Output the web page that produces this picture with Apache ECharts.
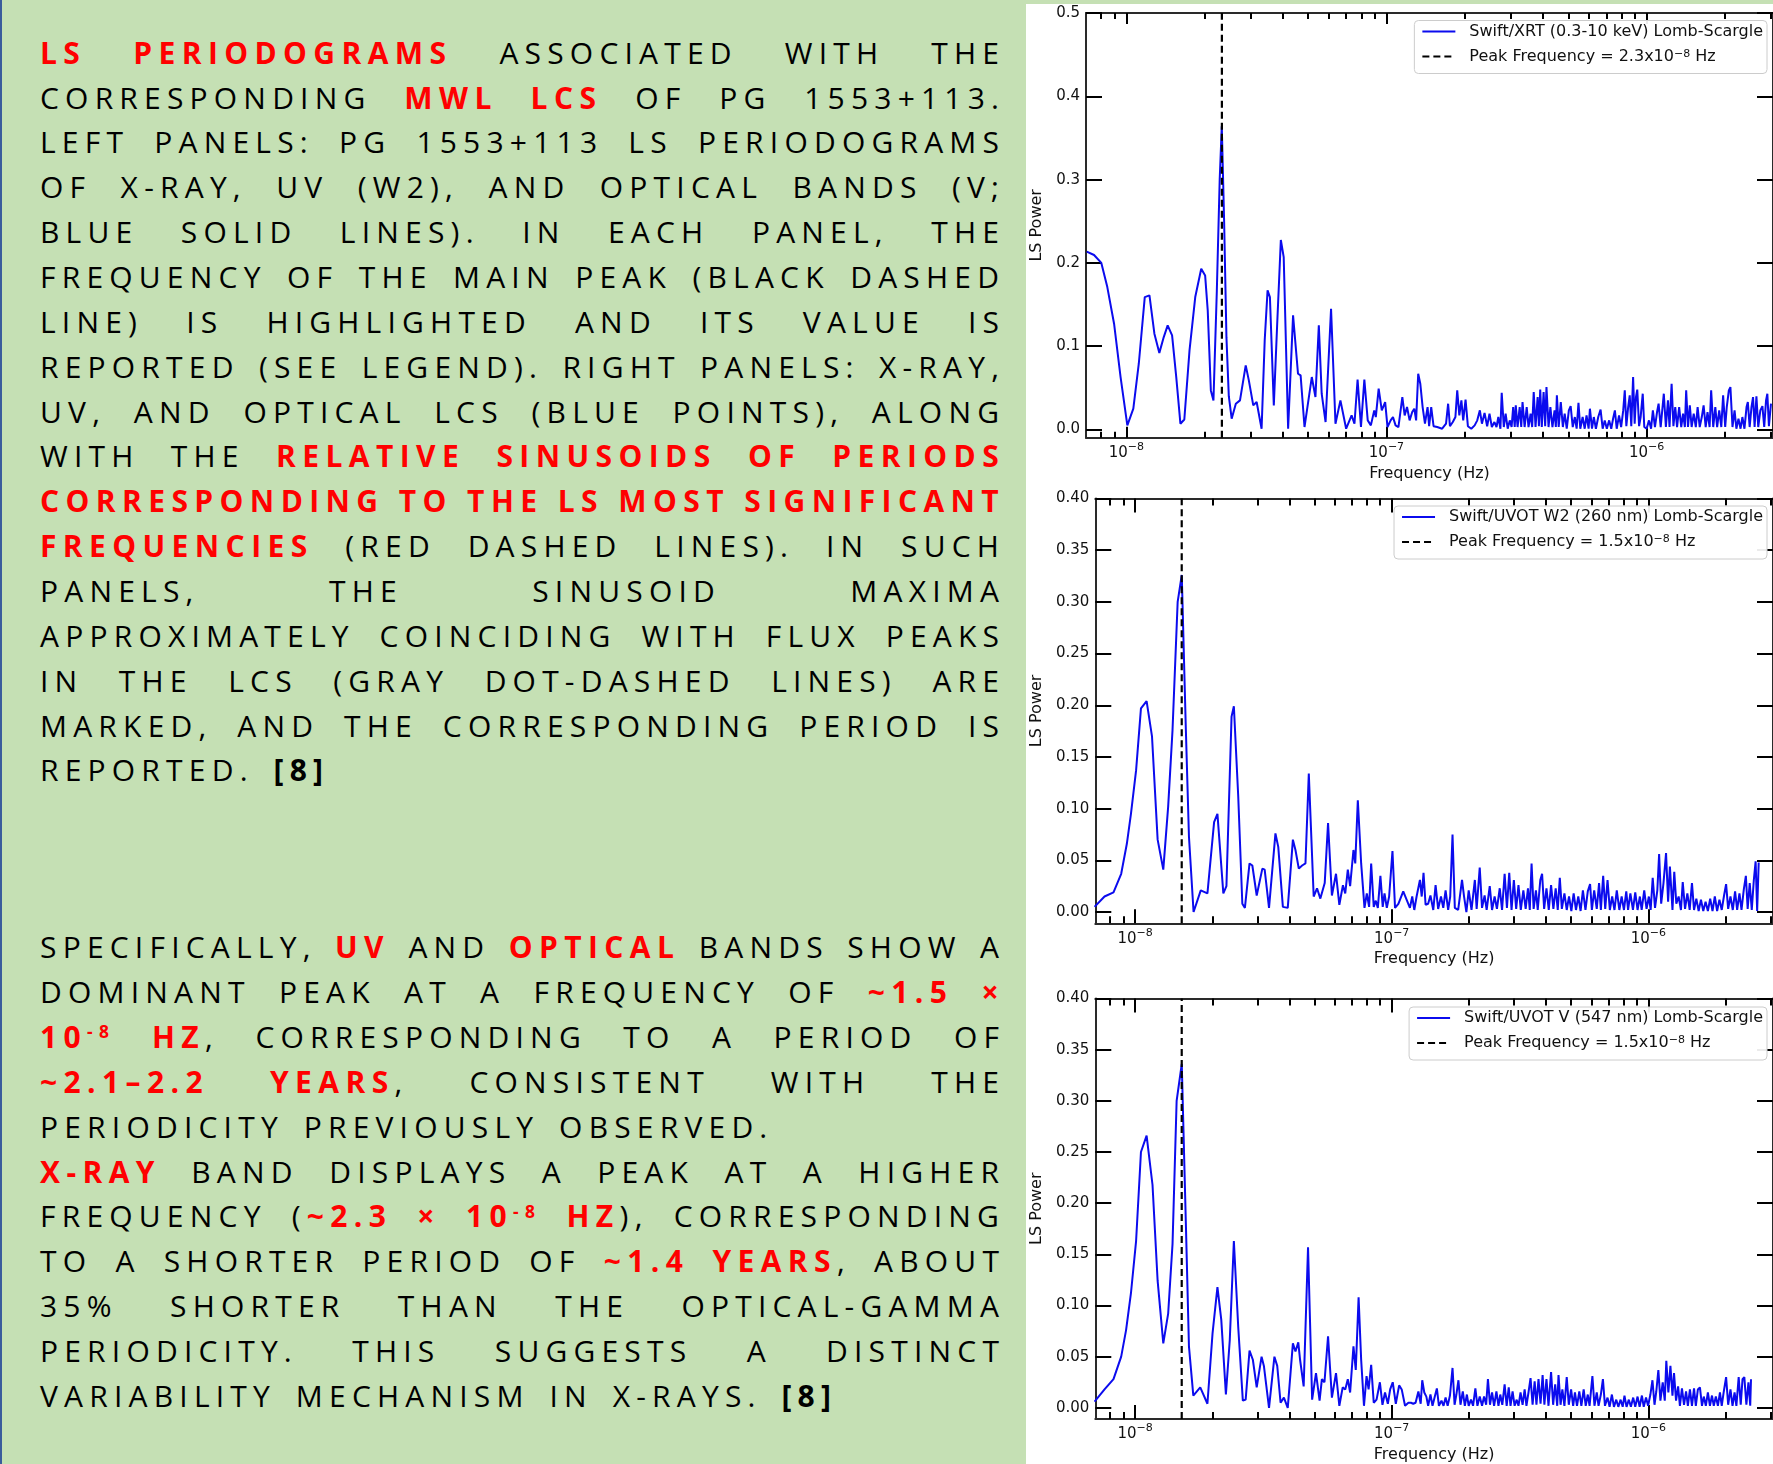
<!DOCTYPE html>
<html>
<head>
<meta charset="utf-8">
<title>LS periodograms of PG 1553+113</title>
<script src="https://cdn.jsdelivr.net/npm/echarts@6.0.0/dist/echarts.min.js"></script>
<style>
  html, body { margin:0; padding:0; }
  body { width:1773px; height:1464px; overflow:hidden; background:#C5E0B4; position:relative; }
  #edge { position:absolute; left:0; top:0; width:2px; height:1464px; background:#3A5C9C; }
  #plotbg { position:absolute; left:1026px; top:4px; width:747px; height:1460px; background:#ffffff; }
  #caption { position:absolute; left:40px; top:0; width:959px; height:1464px; font-family:'Open Sans','Noto Sans',sans-serif; font-size:30px; color:#000; }
  .ln { position:absolute; left:0; width:959px; height:44.86px; line-height:44.86px; display:flex; justify-content:space-between; white-space:nowrap; }
  .ln.last { justify-content:flex-start; column-gap:26px; }
  .w { letter-spacing:6.2px; margin-right:-6.2px; }
  .r { color:#FF0000; font-weight:700; letter-spacing:6.4px; }
  .b { font-weight:700; }
  .sup { font-size:0.58em; position:relative; top:-0.55em; }
  #chart { position:absolute; left:0; top:0; width:1773px; height:1464px; }
</style>
</head>
<body>
<div id="edge"></div>
<div id="plotbg"></div>
<div id="caption"></div>
<div id="chart"></div>
<script>
// ---------------- caption text ----------------
// *...* = bold red, #...# = bold black, ^-8 = superscript, leading ! = last (non-justified) line
const captionPara1 = [
  '*LS* *PERIODOGRAMS* ASSOCIATED WITH THE',
  'CORRESPONDING *MWL* *LCS* OF PG 1553+113.',
  'LEFT PANELS: PG 1553+113 LS PERIODOGRAMS',
  'OF X-RAY, UV (W2), AND OPTICAL BANDS (V;',
  'BLUE SOLID LINES). IN EACH PANEL, THE',
  'FREQUENCY OF THE MAIN PEAK (BLACK DASHED',
  'LINE) IS HIGHLIGHTED AND ITS VALUE IS',
  'REPORTED (SEE LEGEND). RIGHT PANELS: X-RAY,',
  'UV, AND OPTICAL LCS (BLUE POINTS), ALONG',
  'WITH THE *RELATIVE* *SINUSOIDS* *OF* *PERIODS*',
  '*CORRESPONDING* *TO* *THE* *LS* *MOST* *SIGNIFICANT*',
  '*FREQUENCIES* (RED DASHED LINES). IN SUCH',
  'PANELS, THE SINUSOID MAXIMA',
  'APPROXIMATELY COINCIDING WITH FLUX PEAKS',
  'IN THE LCS (GRAY DOT-DASHED LINES) ARE',
  'MARKED, AND THE CORRESPONDING PERIOD IS',
  '!REPORTED. #[8]#'
];
const captionPara2 = [
  'SPECIFICALLY, *UV* AND *OPTICAL* BANDS SHOW A',
  'DOMINANT PEAK AT A FREQUENCY OF *~1.5* *×*',
  '*10^-8* *HZ*, CORRESPONDING TO A PERIOD OF',
  '*~2.1–2.2* *YEARS*, CONSISTENT WITH THE',
  '!PERIODICITY PREVIOUSLY OBSERVED.',
  '*X-RAY* BAND DISPLAYS A PEAK AT A HIGHER',
  'FREQUENCY (*~2.3* *×* *10^-8* *HZ*), CORRESPONDING',
  'TO A SHORTER PERIOD OF *~1.4* *YEARS*, ABOUT',
  '35% SHORTER THAN THE OPTICAL-GAMMA',
  'PERIODICITY. THIS SUGGESTS A DISTINCT',
  '!VARIABILITY MECHANISM IN X-RAYS. #[8]#'
];

// ---------------- periodogram data: [log10(frequency / Hz), LS power] ----------------
const xrtPoints = [
[-8.152,0.2135],[-8.124,0.2095],[-8.096,0.200],[-8.073,0.171],[-8.047,0.127],[-8.022,0.063],[-7.996,0.005],[-7.973,0.025],[-7.952,0.079],[-7.929,0.159],[-7.911,0.161],[-7.892,0.115],[-7.873,0.092],[-7.856,0.111],[-7.841,0.125],[-7.824,0.113],[-7.808,0.063],[-7.792,0.007],[-7.777,0.012],[-7.757,0.095],[-7.735,0.159],[-7.712,0.193],[-7.697,0.185],[-7.687,0.143],[-7.675,0.047],[-7.665,0.035],[-7.652,0.167],[-7.641,0.300],[-7.633,0.364],[-7.624,0.250],[-7.615,0.110],[-7.606,0.040],[-7.595,0.013],[-7.579,0.031],[-7.563,0.035],[-7.541,0.077],[-7.529,0.059],[-7.512,0.029],[-7.499,0.033],[-7.480,0.001],[-7.468,0.107],[-7.457,0.167],[-7.448,0.159],[-7.433,0.029],[-7.420,0.127],[-7.406,0.2275],[-7.395,0.207],[-7.378,0.001],[-7.359,0.137],[-7.340,0.067],[-7.330,0.065],[-7.315,0.003],[-7.287,0.063],[-7.273,0.039],[-7.260,0.125],[-7.249,0.043],[-7.234,0.009],[-7.213,0.145],[-7.196,0.007],[-7.177,0.035],[-7.155,0.001],[-7.134,0.017],[-7.123,0.007],[-7.111,0.060],[-7.098,0.003],[-7.085,0.060],[-7.072,0.011],[-7.060,0.005],[-7.047,0.023],[-7.041,0.015],[-7.030,0.049],[-7.018,0.023],[-7.005,0.033],[-6.996,0.003],
[-6.984,0.011],[-6.975,0.015],[-6.965,0.005],[-6.954,0.003],[-6.939,0.039],[-6.930,0.017],[-6.921,0.027],[-6.911,0.011],[-6.901,0.021],[-6.893,0.025],[-6.886,0.011],[-6.878,0.067],[-6.870,0.055],[-6.861,0.027],[-6.852,0.007],[-6.842,0.027],[-6.836,0.004],[-6.828,0.027],[-6.819,0.004],[-6.805,0.003],[-6.786,0.001],[-6.771,0.007],[-6.763,0.031],[-6.756,0.004],[-6.745,0.009],[-6.735,0.015],[-6.728,0.047],[-6.720,0.017],[-6.712,0.035],[-6.705,0.011],[-6.696,0.036],[-6.687,0.004],[-6.674,0.001],[-6.661,0.005],[-6.651,0.011],[-6.641,0.023],[-6.633,0.007],[-6.623,0.020],[-6.613,0.004],[-6.604,0.019],[-6.595,0.003],[-6.585,0.009],[-6.577,0.003],
[-6.570,0.015],[-6.562,0.001],[-6.557,0.044],[-6.549,0.003],[-6.542,0.019],[-6.534,0.001],[-6.526,0.011],[-6.519,0.003],[-6.513,0.027],[-6.507,0.003],[-6.503,0.029],[-6.496,0.003],[-6.488,0.027],[-6.482,0.003],[-6.477,0.033],[-6.469,0.003],[-6.461,0.027],[-6.454,0.003],[-6.446,0.019],[-6.440,0.003],[-6.434,0.045],[-6.427,0.003],[-6.419,0.039],[-6.414,0.004],[-6.409,0.048],[-6.403,0.003],[-6.396,0.045],[-6.390,0.004],[-6.385,0.051],[-6.377,0.003],[-6.370,0.027],[-6.362,0.003],[-6.354,0.023],[-6.349,0.003],[-6.345,0.041],[-6.338,0.003],[-6.330,0.033],[-6.322,0.003],[-6.315,0.019],[-6.307,0.001],[-6.299,0.023],[-6.292,0.028],[-6.284,0.003],[-6.276,0.015],[-6.269,0.001],[-6.262,0.032],[-6.255,0.001],[-6.246,0.015],[-6.238,0.001],[-6.231,0.017],[-6.223,0.001],[-6.218,0.025],[-6.210,0.001],[-6.203,0.015],[-6.195,0.001],[-6.186,0.015],[-6.177,0.024],[-6.169,0.001],[-6.161,0.011],[-6.153,0.001],[-6.144,0.011],[-6.136,0.001],[-6.129,0.013],[-6.122,0.023],[-6.115,0.001],[-6.106,0.017],[-6.098,0.003],[-6.090,0.023],[-6.084,0.047],[-6.078,0.004],[-6.071,0.027],[-6.065,0.041],[-6.059,0.004],[-6.052,0.063],[-6.046,0.007],[-6.041,0.039],[-6.036,0.048],[-6.029,0.004],[-6.023,0.015],[-6.015,0.043],[-6.009,0.003],[-6.000,0.001],[-5.991,0.011],[-5.983,0.001],[-5.976,0.023],[-5.968,0.003],[-5.960,0.021],[-5.954,0.031],[-5.946,0.003],[-5.940,0.023],[-5.934,0.043],[-5.926,0.003],[-5.918,0.035],[-5.912,0.003],[-5.904,0.055],[-5.897,0.004],[-5.890,0.027],[-5.883,0.003],[-5.875,0.027],[-5.867,0.003],[-5.860,0.019],[-5.853,0.003],[-5.848,0.047],[-5.841,0.003],[-5.834,0.029],[-5.827,0.003],[-5.819,0.019],[-5.811,0.003],[-5.804,0.027],[-5.796,0.003],[-5.788,0.015],[-5.781,0.029],[-5.773,0.003],[-5.766,0.021],[-5.758,0.003],[-5.752,0.047],[-5.744,0.003],[-5.736,0.027],[-5.729,0.003],[-5.721,0.023],[-5.713,0.003],[-5.706,0.041],[-5.698,0.003],[-5.692,0.027],[-5.684,0.047],[-5.678,0.051],[-5.670,0.003],[-5.662,0.023],[-5.655,0.001],[-5.647,0.013],[-5.639,0.001],[-5.632,0.015],[-5.624,0.001],[-5.616,0.027],[-5.611,0.033],[-5.604,0.003],[-5.597,0.027],[-5.591,0.039],[-5.585,0.003],[-5.578,0.040],[-5.571,0.003],[-5.563,0.023],[-5.555,0.028],[-5.548,0.003],[-5.541,0.035],[-5.536,0.043],[-5.530,0.004],[-5.522,0.031]
];
const w2Points = [
[-8.158,0.005],[-8.119,0.015],[-8.084,0.019],[-8.054,0.037],[-8.032,0.066],[-8.016,0.095],[-7.996,0.137],[-7.977,0.197],[-7.955,0.204],[-7.934,0.170],[-7.912,0.070],[-7.890,0.041],[-7.871,0.102],[-7.854,0.176],[-7.834,0.300],[-7.818,0.326],[-7.802,0.176],[-7.790,0.073],[-7.772,0.000],[-7.744,0.021],[-7.718,0.018],[-7.692,0.087],[-7.679,0.095],[-7.656,0.018],[-7.644,0.025],[-7.624,0.189],[-7.615,0.199],[-7.598,0.112],[-7.582,0.008],[-7.572,0.004],[-7.554,0.047],[-7.543,0.045],[-7.526,0.016],[-7.504,0.042],[-7.495,0.041],[-7.478,0.004],[-7.453,0.076],[-7.442,0.063],[-7.424,0.005],[-7.405,0.004],[-7.385,0.070],[-7.375,0.060],[-7.362,0.042],[-7.349,0.045],[-7.336,0.047],[-7.323,0.134],[-7.304,0.015],[-7.291,0.023],[-7.278,0.013],[-7.261,0.028],[-7.248,0.086],[-7.233,0.016],[-7.217,0.037],[-7.204,0.007],[-7.190,0.026],[-7.181,0.018],[-7.171,0.041],[-7.162,0.025],[-7.149,0.060],[-7.142,0.047],[-7.132,0.108],[-7.119,0.047],[-7.106,0.004],[-7.097,0.018],[-7.088,0.005],[-7.080,0.047],[-7.070,0.005],[-7.062,0.011],[-7.054,0.004],[-7.044,0.035],[-7.035,0.005],[-7.028,0.018],[-7.019,0.004],[-7.010,0.015],[-6.997,0.059],[-6.987,0.004],[-6.974,0.008],[-6.955,0.020],[-6.942,0.012],
[-6.938,0.012],[-6.929,0.004],[-6.920,0.015],[-6.912,0.002],[-6.903,0.015],[-6.890,0.031],[-6.883,0.015],[-6.876,0.038],[-6.868,0.007],[-6.858,0.008],[-6.849,0.016],[-6.838,0.002],[-6.829,0.026],[-6.819,0.003],[-6.808,0.015],[-6.799,0.004],[-6.790,0.021],[-6.780,0.002],[-6.772,0.015],[-6.763,0.075],[-6.754,0.004],[-6.741,0.002],[-6.726,0.031],[-6.718,0.015],[-6.709,0.000],[-6.700,0.021],[-6.689,0.002],[-6.676,0.031],[-6.669,0.003],[-6.657,0.043],[-6.648,0.004],[-6.638,0.016],[-6.630,0.002],[-6.618,0.025],[-6.609,0.002],[-6.599,0.015],[-6.590,0.003],[-6.579,0.023],[-6.570,0.002],[-6.560,0.037],[-6.551,0.004],[-6.542,0.038],[-6.533,0.002],[-6.524,0.031],[-6.515,0.003],[-6.506,0.026],[-6.497,0.002],[-6.487,0.021],[-6.478,0.003],[-6.469,0.023],[-6.462,0.002],[-6.455,0.047],[-6.447,0.003],[-6.438,0.021],[-6.431,0.002],[-6.421,0.031],[-6.414,0.037],[-6.406,0.003],[-6.397,0.023],[-6.388,0.002],[-6.379,0.026],[-6.370,0.003],[-6.361,0.023],[-6.353,0.002],[-6.345,0.033],[-6.337,0.003],[-6.327,0.018],[-6.318,0.002],[-6.309,0.015],[-6.300,0.001],[-6.291,0.018],[-6.282,0.002],[-6.273,0.015],[-6.264,0.001],[-6.255,0.021],[-6.245,0.002],[-6.236,0.020],[-6.227,0.027],[-6.220,0.002],[-6.211,0.021],[-6.201,0.003],[-6.192,0.028],[-6.185,0.002],[-6.176,0.035],[-6.168,0.003],[-6.159,0.031],[-6.150,0.002],[-6.141,0.015],[-6.132,0.002],[-6.123,0.021],[-6.113,0.002],[-6.104,0.015],[-6.095,0.002],[-6.086,0.020],[-6.079,0.002],[-6.070,0.018],[-6.060,0.002],[-6.051,0.019],[-6.042,0.002],[-6.033,0.015],[-6.026,0.002],[-6.016,0.021],[-6.007,0.003],[-5.998,0.015],[-5.991,0.002],[-5.983,0.033],[-5.974,0.004],[-5.965,0.021],[-5.958,0.056],[-5.950,0.008],[-5.941,0.028],[-5.931,0.057],[-5.923,0.010],[-5.916,0.044],[-5.906,0.002],[-5.899,0.039],[-5.891,0.008],[-5.882,0.015],[-5.873,0.002],[-5.866,0.029],[-5.857,0.003],[-5.848,0.018],[-5.839,0.002],[-5.830,0.028],[-5.822,0.002],[-5.813,0.013],[-5.804,0.001],[-5.795,0.012],[-5.786,0.001],[-5.777,0.010],[-5.768,0.001],[-5.759,0.013],[-5.750,0.001],[-5.741,0.015],[-5.732,0.001],[-5.723,0.012],[-5.714,0.002],[-5.705,0.016],[-5.697,0.027],[-5.689,0.003],[-5.680,0.015],[-5.671,0.002],[-5.662,0.020],[-5.654,0.002],[-5.645,0.018],[-5.637,0.002],[-5.628,0.022],[-5.620,0.035],[-5.613,0.003],[-5.605,0.028],[-5.597,0.002],[-5.589,0.031],[-5.582,0.049],[-5.576,0.001],[-5.570,0.048]
];
const vPoints = [
[-8.158,0.006],[-8.119,0.018],[-8.084,0.028],[-8.054,0.050],[-8.035,0.076],[-8.016,0.112],[-7.996,0.163],[-7.977,0.250],[-7.955,0.266],[-7.932,0.218],[-7.912,0.124],[-7.890,0.063],[-7.871,0.092],[-7.854,0.160],[-7.838,0.300],[-7.818,0.336],[-7.802,0.180],[-7.790,0.060],[-7.773,0.012],[-7.746,0.020],[-7.718,0.004],[-7.698,0.073],[-7.679,0.118],[-7.664,0.086],[-7.646,0.013],[-7.631,0.066],[-7.615,0.163],[-7.598,0.079],[-7.580,0.007],[-7.569,0.008],[-7.554,0.056],[-7.541,0.047],[-7.526,0.020],[-7.507,0.050],[-7.498,0.041],[-7.478,0.000],[-7.457,0.050],[-7.446,0.041],[-7.433,0.005],[-7.420,0.010],[-7.405,0.000],[-7.385,0.063],[-7.375,0.055],[-7.364,0.064],[-7.357,0.047],[-7.343,0.021],[-7.326,0.157],[-7.310,0.008],[-7.295,0.034],[-7.281,0.007],[-7.272,0.028],[-7.262,0.025],[-7.248,0.070],[-7.233,0.010],[-7.217,0.034],[-7.204,0.002],[-7.191,0.020],[-7.181,0.018],[-7.171,0.028],[-7.162,0.015],[-7.149,0.060],[-7.140,0.037],[-7.129,0.108],[-7.119,0.047],[-7.108,0.002],[-7.098,0.031],[-7.090,0.018],[-7.080,0.042],[-7.070,0.005],[-7.059,0.008],[-7.046,0.025],[-7.036,0.003],[-7.026,0.015],[-7.015,0.004],[-7.006,0.018],[-6.996,0.025],[-6.984,0.004],[-6.971,0.022],[-6.961,0.018],[-6.948,0.002],
[-6.935,0.005],[-6.925,0.005],[-6.916,0.004],[-6.907,0.005],[-6.896,0.016],[-6.887,0.004],[-6.881,0.027],[-6.873,0.015],[-6.865,0.011],[-6.858,0.002],[-6.849,0.013],[-6.841,0.002],[-6.832,0.011],[-6.824,0.019],[-6.816,0.002],[-6.806,0.007],[-6.798,0.002],[-6.790,0.010],[-6.782,0.002],[-6.773,0.012],[-6.763,0.039],[-6.755,0.003],[-6.748,0.013],[-6.740,0.027],[-6.732,0.003],[-6.723,0.016],[-6.715,0.002],[-6.707,0.013],[-6.700,0.002],[-6.691,0.008],[-6.683,0.002],[-6.674,0.019],[-6.666,0.002],[-6.657,0.011],[-6.648,0.002],[-6.640,0.011],[-6.632,0.003],[-6.625,0.028],[-6.617,0.003],[-6.609,0.015],[-6.601,0.002],[-6.592,0.016],[-6.584,0.002],[-6.577,0.013],[-6.569,0.003],[-6.560,0.023],[-6.552,0.002],[-6.544,0.020],[-6.537,0.002],[-6.529,0.016],[-6.521,0.002],[-6.513,0.008],[-6.506,0.002],[-6.498,0.015],[-6.490,0.003],[-6.482,0.018],[-6.475,0.002],[-6.467,0.015],[-6.459,0.029],[-6.451,0.003],[-6.443,0.026],[-6.436,0.003],[-6.428,0.028],[-6.420,0.004],[-6.412,0.032],[-6.405,0.003],[-6.397,0.028],[-6.389,0.002],[-6.379,0.035],[-6.371,0.003],[-6.363,0.023],[-6.355,0.002],[-6.350,0.032],[-6.342,0.003],[-6.335,0.018],[-6.327,0.002],[-6.318,0.030],[-6.310,0.003],[-6.301,0.018],[-6.293,0.002],[-6.286,0.015],[-6.278,0.002],[-6.269,0.016],[-6.261,0.002],[-6.252,0.018],[-6.244,0.002],[-6.236,0.013],[-6.229,0.002],[-6.218,0.031],[-6.210,0.002],[-6.201,0.015],[-6.194,0.002],[-6.185,0.013],[-6.177,0.028],[-6.169,0.002],[-6.159,0.010],[-6.151,0.001],[-6.142,0.013],[-6.134,0.001],[-6.125,0.008],[-6.117,0.001],[-6.108,0.008],[-6.100,0.001],[-6.093,0.012],[-6.085,0.001],[-6.076,0.008],[-6.068,0.001],[-6.059,0.010],[-6.051,0.001],[-6.042,0.011],[-6.034,0.001],[-6.025,0.012],[-6.018,0.001],[-6.009,0.010],[-6.001,0.002],[-5.992,0.013],[-5.984,0.027],[-5.976,0.003],[-5.969,0.016],[-5.961,0.037],[-5.953,0.007],[-5.944,0.025],[-5.936,0.007],[-5.930,0.046],[-5.922,0.015],[-5.914,0.041],[-5.906,0.012],[-5.900,0.034],[-5.892,0.007],[-5.884,0.021],[-5.877,0.002],[-5.869,0.019],[-5.861,0.003],[-5.853,0.016],[-5.846,0.002],[-5.838,0.018],[-5.830,0.002],[-5.822,0.019],[-5.815,0.002],[-5.807,0.018],[-5.799,0.020],[-5.791,0.002],[-5.784,0.011],[-5.776,0.002],[-5.768,0.015],[-5.760,0.002],[-5.752,0.012],[-5.745,0.002],[-5.737,0.011],[-5.729,0.002],[-5.721,0.015],[-5.714,0.002],[-5.706,0.016],[-5.697,0.030],[-5.689,0.003],[-5.680,0.018],[-5.672,0.002],[-5.664,0.015],[-5.657,0.002],[-5.648,0.030],[-5.640,0.003],[-5.633,0.028],[-5.626,0.030],[-5.618,0.003],[-5.610,0.025],[-5.603,0.002],[-5.600,0.028]
];

const curveNames = ['Swift/XRT (0.3-10 keV) Lomb-Scargle', 'Swift/UVOT W2 (260 nm) Lomb-Scargle', 'Swift/UVOT V (547 nm) Lomb-Scargle'];
const peakNames = ['Peak Frequency = 2.3x10⁻⁸ Hz', 'Peak Frequency = 1.5x10⁻⁸ Hz', 'Peak Frequency = 1.5x10⁻⁸ Hz'];
const peakFrequencies = [2.33e-8, 1.52e-8, 1.52e-8];

const freqLimits = [7.0e-9, 3.06e-6];
const freqMajorTicks = [1e-8, 1e-7, 1e-6];
const freqMinorTicks = [8e-9, 9e-9, 2e-8, 3e-8, 4e-8, 5e-8, 6e-8, 7e-8, 8e-8, 9e-8, 2e-7, 3e-7, 4e-7, 5e-7, 6e-7, 7e-7, 8e-7, 9e-7, 2e-6, 3e-6];
const powerTicksXrt = [0, 0.1, 0.2, 0.3, 0.4, 0.5];
const powerTicksUvot = [0, 0.05, 0.10, 0.15, 0.20, 0.25, 0.30, 0.35, 0.40];
const powerLimits = [[-0.0098, 0.5], [-0.0109, 0.40], [-0.0109, 0.40]];

// ---------------- caption rendering ----------------
function wordHtml(w) {
  return w.replace(/\^-8/g, '<span class="sup">-8</span>')
          .replace(/\*([^*]+)\*/g, '<span class="r">$1</span>')
          .replace(/#([^#]+)#/g, '<span class="b">$1</span>');
}
function renderPara(lines, top) {
  const cap = document.getElementById('caption');
  lines.forEach((line, i) => {
    const last = line.charAt(0) === '!';
    const txt = last ? line.slice(1) : line;
    const div = document.createElement('div');
    div.className = 'ln' + (last ? ' last' : '');
    div.style.top = (top + i * 44.86) + 'px';
    div.innerHTML = txt.split(' ').map(w => '<span class="w">' + wordHtml(w) + '</span>').join('');
    cap.appendChild(div);
  });
}
renderPara(captionPara1, 30.65);
renderPara(captionPara2, 925.2);

// ---------------- chart ----------------
function powLabel(v) {
  const e = Math.round(Math.log10(v));
  return '{b|10}{s|' + String(e).replace('-', '−') + '}';
}
function legendLabel(name) {
  return name.replace('10⁻⁸', '10{s|−8}');
}

const panels = [
  {left:1086, top:13, width:690.5, height:424.7, majorLen:11, minorLen:6, yGap:41, digits:1, ticks:powerTicksXrt, legendTop:20.5},
  {left:1095.3, top:498.5, width:680.5, height:424.8, majorLen:14, minorLen:7, yGap:50, digits:2, ticks:powerTicksUvot, legendTop:506},
  {left:1095.3, top:998.5, width:680.5, height:424.8, majorLen:14, minorLen:7, yGap:50, digits:2, ticks:powerTicksUvot, legendTop:1007}
];
const curves = [xrtPoints, w2Points, vPoints];

const FONT = 'DejaVu Sans';
const spineStyle = {color:'#2a2a2a', width:2};
const tickStyle = {color:'#000', width:2};
const txt = {fontFamily:FONT, color:'#111'};
const supRich = {
  b:{fontSize:15, fontFamily:FONT, color:'#111', lineHeight:19, verticalAlign:'bottom'},
  s:{fontSize:11, fontFamily:FONT, color:'#111', lineHeight:11, verticalAlign:'top'}
};

const grid = panels.map(p => ({left:p.left, top:p.top, width:p.width, height:p.height, containLabel:false}));

const xAxis = [];
const yAxis = [];
panels.forEach((p, g) => {
  const base = {gridIndex:g, type:'log', logBase:10, min:freqLimits[0], max:freqLimits[1], splitLine:{show:false}, minorTick:{show:false}, axisPointer:{show:false}};
  xAxis.push(Object.assign({}, base, {
    position:'bottom',
    axisLine:{show:true, onZero:false, lineStyle:spineStyle},
    axisTick:{show:true, inside:true, length:p.majorLen, customValues:freqMajorTicks, lineStyle:tickStyle},
    axisLabel:{show:true, customValues:freqMajorTicks, formatter:powLabel, margin:4, fontSize:15, fontFamily:FONT, color:'#111', rich:supRich},
    name:'Frequency (Hz)', nameLocation:'middle', nameGap:28, nameTextStyle:Object.assign({fontSize:16}, txt)
  }));
  xAxis.push(Object.assign({}, base, {
    position:'bottom', axisLine:{show:false, onZero:false},
    axisTick:{show:true, inside:true, length:p.minorLen, customValues:freqMinorTicks, lineStyle:tickStyle},
    axisLabel:{show:false}
  }));
  xAxis.push(Object.assign({}, base, {
    position:'top', axisLine:{show:true, onZero:false, lineStyle:spineStyle},
    axisTick:{show:true, inside:true, length:p.majorLen, customValues:freqMajorTicks, lineStyle:tickStyle},
    axisLabel:{show:false}
  }));
  xAxis.push(Object.assign({}, base, {
    position:'top', axisLine:{show:false, onZero:false},
    axisTick:{show:true, inside:true, length:p.minorLen, customValues:freqMinorTicks, lineStyle:tickStyle},
    axisLabel:{show:false}
  }));

  const ybase = {gridIndex:g, type:'value', min:powerLimits[g][0], max:powerLimits[g][1], splitLine:{show:false}, axisPointer:{show:false}};
  yAxis.push(Object.assign({}, ybase, {
    position:'left',
    axisLine:{show:true, onZero:false, lineStyle:spineStyle},
    axisTick:{show:true, inside:true, length:16, customValues:p.ticks, lineStyle:tickStyle},
    axisLabel:{show:true, customValues:p.ticks, formatter:v => Number(v).toFixed(p.digits), margin:6, fontSize:15, fontFamily:FONT, color:'#111'},
    name:'LS Power', nameLocation:'middle', nameRotate:90, nameGap:p.yGap, nameTextStyle:Object.assign({fontSize:16}, txt)
  }));
  yAxis.push(Object.assign({}, ybase, {
    position:'right',
    axisLine:{show:true, onZero:false, lineStyle:spineStyle},
    axisTick:{show:true, inside:true, length:16, customValues:p.ticks, lineStyle:tickStyle},
    axisLabel:{show:false}
  }));
});

const series = [];
curves.forEach((pts, g) => {
  series.push({
    name:curveNames[g], type:'line', xAxisIndex:4 * g, yAxisIndex:2 * g,
    data:pts.map(p => [Math.pow(10, p[0]), p[1]]),
    symbol:'none', showSymbol:false, smooth:false, silent:true, animation:false, z:2,
    lineStyle:{color:'#0B0BEE', width:2}, itemStyle:{color:'#0B0BEE', opacity:0}
  });
  series.push({
    name:peakNames[g], type:'line', xAxisIndex:4 * g, yAxisIndex:2 * g,
    data:[[peakFrequencies[g], powerLimits[g][0]], [peakFrequencies[g], powerLimits[g][1]]],
    symbol:'none', showSymbol:false, silent:true, animation:false, z:3,
    lineStyle:{color:'#000', width:2.2, type:[7, 4]}, itemStyle:{color:'#000', opacity:0}
  });
});

const legend = panels.map((p, g) => ({
  orient:'vertical', right:6, top:p.legendTop,
  data:[curveNames[g], peakNames[g]],
  itemWidth:33, itemHeight:14, itemGap:9,
  padding:[3, 4, 9, 7],
  backgroundColor:'rgba(255,255,255,0.92)', borderColor:'#CCCCCC', borderWidth:1, borderRadius:4,
  selectedMode:false,
  itemStyle:{opacity:0},
  formatter:legendLabel,
  textStyle:{fontFamily:FONT, fontSize:16, color:'#111', padding:[0, 0, 0, 9],
    rich:{s:{fontSize:11, fontFamily:FONT, color:'#111', lineHeight:11, verticalAlign:'top'}}}
}));

const chart = echarts.init(document.getElementById('chart'), null, {renderer:'canvas'});
chart.setOption({
  animation:false,
  backgroundColor:'transparent',
  textStyle:{fontFamily:FONT},
  grid, xAxis, yAxis, series, legend
});
</script>
</body>
</html>
